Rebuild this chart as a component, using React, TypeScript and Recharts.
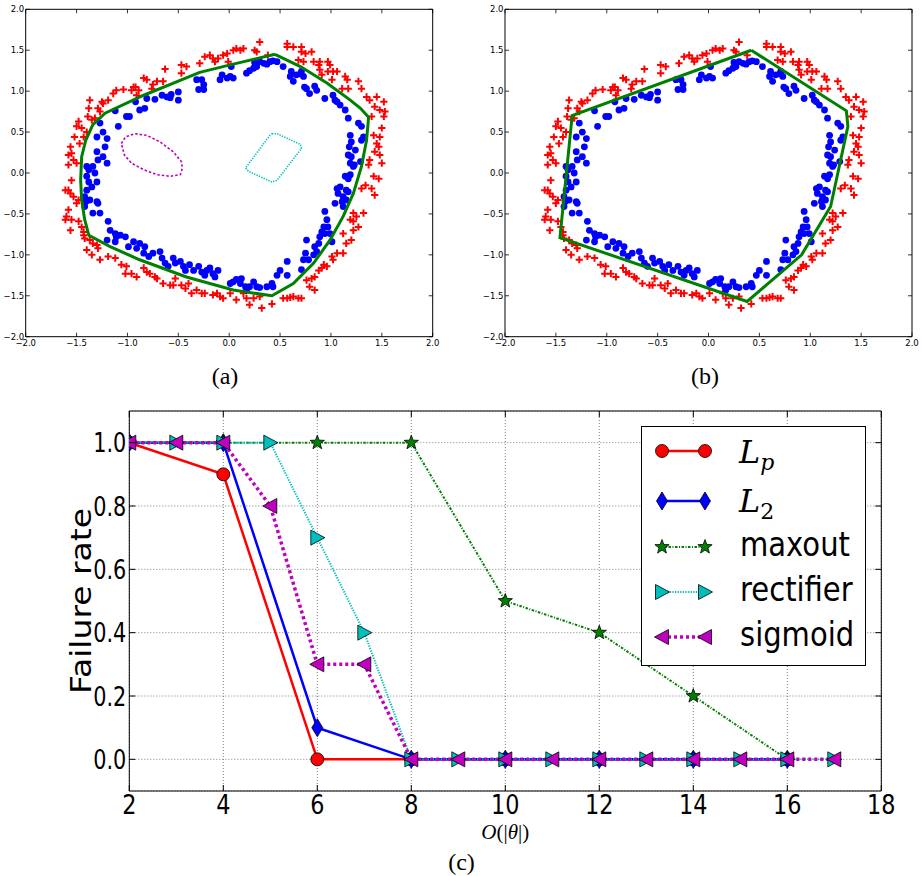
import React from 'react';
import {
  ScatterChart, Scatter, XAxis, YAxis, ReferenceArea,
  ComposedChart, Line, CartesianGrid,
} from 'recharts';

type Pt = [number, number];

// ---- panels (a) and (b): same two point clouds ----
const BLUE_PTS: Pt[] = [
  [-0.92, 0.87], [-0.88, 0.77], [-0.83, 0.79], [-0.81, 0.91], [-0.73, 0.90], [-0.66, 0.95],
  [-0.61, 0.93], [-0.58, 0.92], [-0.57, 0.96], [-0.50, 0.89], [-0.50, 0.99], [-1.12, 0.76],
  [-1.01, 0.69], [-0.98, 0.69], [-1.09, 0.57],
  [-0.32, 1.14], [-0.27, 1.14], [-0.25, 1.08], [-0.25, 1.02], [-0.30, 1.02], [-0.07, 1.20],
  [-0.09, 1.14], [-0.02, 1.16], [0.01, 1.18], [0.02, 1.30], [0.04, 1.16], [0.17, 1.22],
  [0.20, 1.25], [0.24, 1.28], [0.27, 1.30], [0.25, 1.35], [0.30, 1.36], [0.34, 1.34],
  [0.37, 1.33], [0.40, 1.36], [0.43, 1.37], [0.47, 1.36],
  [0.53, 1.30], [0.61, 1.24], [0.60, 1.18], [0.63, 1.12], [0.66, 1.20], [0.70, 1.21],
  [0.73, 1.18], [0.71, 1.24], [0.74, 1.05], [0.76, 1.03], [0.79, 0.97], [0.84, 1.06],
  [0.86, 1.01], [0.94, 0.91], [1.02, 0.95], [1.04, 0.89], [1.06, 0.87], [1.09, 0.83],
  [1.14, 0.77], [1.17, 0.67], [1.27, 0.61], [1.30, 0.57],
  [1.19, 0.46], [1.20, 0.38], [1.18, 0.32], [1.24, 0.28], [1.30, 0.40], [1.32, 0.44],
  [1.17, 0.22], [1.20, 0.20], [1.19, 0.12], [1.23, 0.10], [1.29, 0.14], [1.22, 0.08],
  [1.14, -0.04], [1.17, -0.07], [1.19, -0.02], [1.06, -0.19], [1.09, -0.17], [1.15, -0.21],
  [1.17, -0.23], [1.07, -0.25], [1.12, -0.29], [1.11, -0.35], [1.15, -0.33], [1.04, -0.37],
  [1.12, -0.41], [0.94, -0.47], [0.96, -0.57], [0.93, -0.66], [0.97, -0.66], [0.91, -0.72],
  [0.94, -0.74], [0.89, -0.78], [0.99, -0.74], [1.01, -0.84], [0.88, -0.86], [0.84, -0.90],
  [0.86, -0.96], [0.83, -1.00], [0.76, -0.82], [0.75, -0.98], [0.78, -1.06], [0.73, -1.06],
  [0.57, -1.08], [0.50, -1.19], [0.57, -1.25], [0.47, -1.25], [0.71, -1.18], [0.43, -1.39],
  [0.42, -1.35], [0.37, -1.39], [0.30, -1.40], [0.27, -1.39], [0.24, -1.33], [0.20, -1.39],
  [0.17, -1.43], [0.16, -1.39], [0.12, -1.29], [0.07, -1.30], [0.11, -1.35], [0.04, -1.33],
  [0.01, -1.35],
  [-1.19, -0.59], [-1.17, -0.70], [-1.12, -0.74], [-1.11, -0.78], [-1.07, -0.76], [-1.02, -0.78],
  [-1.20, -0.82], [-1.12, -0.84], [-0.99, -0.90], [-0.94, -0.84], [-0.91, -0.92], [-0.88, -0.86],
  [-0.83, -0.90], [-0.84, -0.98], [-0.79, -1.02], [-0.75, -0.98], [-0.68, -0.96], [-0.66, -1.04],
  [-0.63, -1.10], [-0.60, -1.14], [-0.55, -1.04], [-0.53, -1.10], [-0.48, -1.08], [-0.45, -1.14],
  [-0.43, -1.19], [-0.39, -1.12], [-0.35, -1.19], [-0.30, -1.14], [-0.27, -1.21], [-0.24, -1.25],
  [-0.22, -1.19], [-0.19, -1.16], [-0.16, -1.23], [-0.11, -1.19], [-0.14, -1.27],
  [-1.27, 0.61], [-1.24, 0.50], [-1.30, 0.44], [-1.20, 0.42], [-1.22, 0.32], [-1.30, 0.26],
  [-1.29, 0.16], [-1.24, 0.20], [-1.20, 0.12], [-1.40, 0.08], [-1.38, 0.04], [-1.34, 0.08],
  [-1.32, 0.00], [-1.30, -0.11], [-1.40, -0.04], [-1.38, -0.11], [-1.35, -0.17], [-1.40, -0.21],
  [-1.42, -0.29], [-1.41, -0.35], [-1.37, -0.33], [-1.42, -0.41], [-1.34, -0.49], [-1.29, -0.37],
  [-1.27, -0.49], [-1.30, -0.35],
];

const RED_PTS: Pt[] = [
  [-0.63, 1.27], [-0.47, 1.32], [-0.42, 1.30], [-0.47, 1.22], [-0.65, 1.12], [-0.71, 1.12],
  [-0.75, 1.08], [-0.76, 1.03], [-0.81, 1.14], [-0.84, 1.16], [-0.89, 1.01], [-0.92, 1.05],
  [-0.94, 1.05], [-0.96, 1.01], [-0.91, 0.95], [-1.04, 1.02], [-1.11, 1.01], [-1.14, 0.97],
  [-1.19, 0.89], [-1.24, 0.85], [-1.25, 0.87], [-1.37, 0.89], [-1.38, 0.79], [-1.29, 0.79],
  [-1.27, 0.75], [-1.32, 0.67], [-1.35, 0.65], [-1.39, 0.69], [-1.48, 0.63], [-1.50, 0.57],
  [-1.45, 0.55], [-1.40, 0.50], [-1.43, 0.44], [-1.47, 0.36], [-1.52, 0.44], [-1.56, 0.32],
  [-1.55, 0.24], [-1.58, 0.22], [-1.53, 0.16], [-1.50, 0.12], [-1.58, 0.10], [-1.55, -0.09],
  [-1.61, -0.21], [-1.58, -0.21], [-1.56, -0.25], [-1.53, -0.29], [-1.48, -0.33], [-1.50, -0.37],
  [-1.58, -0.45], [-1.60, -0.53], [-1.61, -0.57], [-1.55, -0.57], [-1.48, -0.59], [-1.56, -0.70],
  [-1.45, -0.66], [-1.43, -0.72], [-1.43, -0.76], [-1.42, -0.80], [-1.37, -0.82], [-1.34, -0.86],
  [-1.30, -0.88], [-1.40, -0.94], [-1.35, -1.00], [-1.27, -1.06], [-1.29, -0.92], [-1.19, -1.02],
  [-1.12, -1.04], [-1.06, -1.12], [-1.01, -1.14], [-1.02, -1.23], [-0.96, -1.23], [-0.91, -1.27],
  [-0.84, -1.16], [-0.81, -1.21], [-0.78, -1.23], [-0.73, -1.27], [-0.71, -1.29], [-0.65, -1.35],
  [-0.58, -1.37], [-0.55, -1.37], [-0.53, -1.29], [-0.47, -1.37], [-0.43, -1.41], [-0.40, -1.35],
  [-0.37, -1.47], [-0.32, -1.43], [-0.27, -1.47], [-0.24, -1.47], [-0.16, -1.49], [-0.12, -1.47],
  [-0.09, -1.51], [-0.06, -1.53], [0.01, -1.47], [0.07, -1.55], [0.14, -1.47], [0.17, -1.53],
  [0.20, -1.61], [0.24, -1.53], [0.30, -1.51], [0.32, -1.65], [0.42, -1.60], [0.53, -1.53],
  [0.57, -1.53], [0.60, -1.52], [0.63, -1.51], [0.68, -1.53], [0.71, -1.53],
  [-0.29, 1.34], [-0.24, 1.42], [-0.19, 1.44], [-0.16, 1.40], [-0.14, 1.36], [-0.11, 1.40],
  [-0.06, 1.44], [-0.02, 1.46], [-0.01, 1.36], [0.04, 1.50], [0.07, 1.52], [0.11, 1.50],
  [0.14, 1.52], [0.25, 1.50], [0.27, 1.48], [0.30, 1.60], [0.38, 1.44], [0.57, 1.58],
  [0.57, 1.54], [0.63, 1.54], [0.71, 1.54], [0.71, 1.48], [0.75, 1.46], [0.81, 1.48],
  [0.68, 1.38], [0.73, 1.36], [0.83, 1.36], [0.88, 1.32], [0.89, 1.36], [0.97, 1.36],
  [0.99, 1.32], [1.02, 1.24], [0.89, 1.26], [0.91, 1.20], [0.97, 1.24], [1.01, 1.14],
  [1.06, 1.24], [1.14, 1.18], [1.16, 1.14], [1.11, 1.03], [1.17, 1.03], [1.27, 1.12],
  [1.30, 1.03], [1.35, 0.93], [1.38, 0.89], [1.45, 0.93], [1.52, 0.87], [1.43, 0.81],
  [1.40, 0.69], [1.48, 0.77], [1.53, 0.75], [1.52, 0.69], [1.50, 0.55], [1.42, 0.46],
  [1.48, 0.44], [1.45, 0.36], [1.47, 0.32], [1.43, 0.26], [1.48, 0.22], [1.38, 0.16],
  [1.37, 0.10], [1.50, 0.12], [1.42, -0.04], [1.47, -0.07], [1.34, -0.15], [1.40, -0.19],
  [1.43, -0.27], [1.30, -0.19], [1.32, -0.49], [1.22, -0.49], [1.25, -0.53], [1.22, -0.59],
  [1.19, -0.57], [1.27, -0.66], [1.22, -0.70], [1.12, -0.74], [1.20, -0.82], [1.15, -0.86],
  [1.12, -0.98], [1.06, -0.98], [1.01, -1.02], [1.02, -1.06], [0.96, -1.14], [0.93, -1.12],
  [0.91, -1.16], [0.88, -1.19], [0.84, -1.27], [0.81, -1.29], [0.76, -1.31], [0.79, -1.39],
  [0.84, -1.43],
];

// decision boundary of (a): smooth closed curve
const BOUNDARY_A: Pt[] = [
  [0.45, 1.45], [0.70, 1.30], [0.96, 1.10], [1.19, 0.89], [1.29, 0.79], [1.37, 0.68],
  [1.35, 0.40], [1.30, 0.08], [1.22, -0.25], [1.12, -0.53], [0.99, -0.82], [0.83, -1.10],
  [0.63, -1.35], [0.42, -1.50], [0.04, -1.43], [-0.42, -1.27], [-0.88, -1.06], [-1.17, -0.90],
  [-1.38, -0.76], [-1.42, -0.57], [-1.45, -0.33], [-1.46, -0.09], [-1.45, 0.20], [-1.41, 0.40],
  [-1.34, 0.59], [-1.22, 0.73], [-0.84, 0.95], [-0.29, 1.23], [0.04, 1.33], [0.45, 1.45],
];
// decision boundary of (b): polygon
const BOUNDARY_B: Pt[] = [
  [0.42, 1.5], [1.355, 0.76], [1.37, 0.57], [1.2, -0.41], [0.915, -1.0], [0.38, -1.57],
  [-1.46, -0.79], [-1.34, 0.70], [0.42, 1.5],
];
const ELLIPSE_A: Pt[] = [
  [-1.06, 0.36], [-1.02, 0.44], [-0.93, 0.48], [-0.81, 0.46], [-0.68, 0.38], [-0.55, 0.26],
  [-0.47, 0.14], [-0.46, 0.06], [-0.48, -0.02], [-0.58, -0.04], [-0.71, -0.02], [-0.84, 0.04],
  [-0.96, 0.12], [-1.03, 0.22], [-1.06, 0.36],
];
const QUAD_A: Pt[] = [
  [0.42, 0.48], [0.47, 0.48], [0.70, 0.35], [0.71, 0.30], [0.47, -0.09], [0.42, -0.11],
  [0.19, 0.02], [0.16, 0.06], [0.40, 0.46], [0.42, 0.48],
];
const RING_TICKS = [-2, -1.5, -1, -0.5, 0, 0.5, 1, 1.5, 2];

// ---- panel (c) ----
const LP_X = [2, 4, 6, 8, 10, 12, 14, 16];
const LP_Y = [1.0, 0.9, 0.0, 0.0, 0.0, 0.0, 0.0, 0.0];
const L2_X = [2, 4, 6, 8, 10, 12, 14, 16];
const L2_Y = [1.0, 1.0, 0.1, 0.0, 0.0, 0.0, 0.0, 0.0];
const MAXOUT_X = [2, 4, 6, 8, 10, 12, 14, 16];
const MAXOUT_Y = [1.0, 1.0, 1.0, 1.0, 0.5, 0.4, 0.2, 0.0];
const RECT_X = [2, 3, 4, 5, 6, 7, 8, 9, 10, 11, 12, 13, 14, 15, 16, 17];
const RECT_Y = [1.0, 1.0, 1.0, 1.0, 0.7, 0.4, 0, 0, 0, 0, 0, 0, 0, 0, 0, 0];
const SIGM_X = [2, 3, 4, 5, 6, 7, 8, 9, 10, 11, 12, 13, 14, 15, 16, 17];
const SIGM_Y = [1.0, 1.0, 1.0, 0.8, 0.3, 0.3, 0, 0, 0, 0, 0, 0, 0, 0, 0, 0];
const C_XTICKS = [2, 4, 6, 8, 10, 12, 14, 16, 18];
const C_YTICKS = [0, 0.2, 0.4, 0.6, 0.8, 1.0];

const toXY = (pts: Pt[]) => pts.map(([x, y]) => ({ x, y }));
const zip = (xs: number[], ys: number[]) => xs.map((x, i) => ({ x, y: ys[i] }));

const fmtRing = (v: number) => (v < 0 ? '\u2212' : '') + Math.abs(v).toFixed(1);

const EDGE = '#000';

// ---------- markers ----------
const mkCircle = (cx: number, cy: number, k?: any) => (
  <circle key={k} cx={cx} cy={cy} r={6.5} fill="#ff0000" stroke={EDGE} strokeWidth={0.8} />
);
const mkDiamond = (cx: number, cy: number, k?: any) => (
  <path key={k} d={`M${cx},${cy - 9}L${cx + 5.5},${cy}L${cx},${cy + 9}L${cx - 5.5},${cy}Z`}
    fill="#0000ff" stroke={EDGE} strokeWidth={0.8} />
);
const mkStar = (cx: number, cy: number, k?: any) => {
  const pts: string[] = [];
  for (let i = 0; i < 10; i++) {
    const r = i % 2 === 0 ? 7.5 : 3.1;
    const a = -Math.PI / 2 + (i * Math.PI) / 5;
    pts.push(`${cx + r * Math.cos(a)},${cy + r * Math.sin(a)}`);
  }
  return <polygon key={k} points={pts.join(' ')} fill="#008000" stroke={EDGE} strokeWidth={0.8} />;
};
const mkTriRight = (cx: number, cy: number, k?: any) => (
  <path key={k} d={`M${cx + 7.5},${cy}L${cx - 6.5},${cy - 7.5}L${cx - 6.5},${cy + 7.5}Z`}
    fill="#00bfbf" stroke={EDGE} strokeWidth={0.8} />
);
const mkTriLeft = (cx: number, cy: number, k?: any) => (
  <path key={k} d={`M${cx - 7.5},${cy}L${cx + 6.5},${cy - 7.5}L${cx + 6.5},${cy + 7.5}Z`}
    fill="#bf00bf" stroke={EDGE} strokeWidth={0.8} />
);

const SERIES = [
  { key: 'lp', data: zip(LP_X, LP_Y), color: '#ff0000', width: 2.5, dash: undefined, marker: mkCircle },
  { key: 'l2', data: zip(L2_X, L2_Y), color: '#0000ff', width: 2.5, dash: undefined, marker: mkDiamond },
  { key: 'maxout', data: zip(MAXOUT_X, MAXOUT_Y), color: '#008000', width: 2, dash: '2.5 1.5 1 1.5', marker: mkStar },
  { key: 'rect', data: zip(RECT_X, RECT_Y), color: '#00bfbf', width: 2, dash: '1.3 1.3', marker: mkTriRight },
  { key: 'sigm', data: zip(SIGM_X, SIGM_Y), color: '#bf00bf', width: 3.5, dash: '3 3', marker: mkTriLeft },
];

// ---------- ring panels ----------
const RING_TOP = 9.3;
const RING_PLOT_W = 407;
const RING_H = 390;
const RING_BOTTOM = 336.7;

function RingPanel({ left, width, yAxisW, boundary, extras }: {
  left: number; width: number; yAxisW: number; boundary: Pt[]; extras: boolean;
}) {
  const right = yAxisW + RING_PLOT_W;
  const XTick = (p: any) => (
    <g>
      <line x1={p.x} x2={p.x} y1={p.y} y2={p.y - 4} stroke="#000" strokeWidth={0.8} />
      <line x1={p.x} x2={p.x} y1={RING_TOP} y2={RING_TOP + 4} stroke="#000" strokeWidth={0.8} />
      <text x={p.x} y={p.y + 9.5} textAnchor="middle" fontSize={8.5} fontFamily="DejaVu Sans" fill="#000">
        {fmtRing(p.payload.value)}
      </text>
    </g>
  );
  const YTick = (p: any) => (
    <g>
      <line x1={p.x} x2={p.x + 4} y1={p.y} y2={p.y} stroke="#000" strokeWidth={0.8} />
      <line x1={right} x2={right - 4} y1={p.y} y2={p.y} stroke="#000" strokeWidth={0.8} />
      <text x={p.x - 1.5} y={p.y + 3} textAnchor="end" fontSize={8.5} fontFamily="DejaVu Sans" fill="#000">
        {fmtRing(p.payload.value)}
      </text>
    </g>
  );
  return (
    <div style={{ position: 'absolute', left, top: 0 }}>
      <ScatterChart width={width} height={RING_H}
        margin={{ top: RING_TOP, right: width - right, bottom: 0, left: 0 }}>
        <XAxis type="number" dataKey="x" domain={[-2, 2]} ticks={RING_TICKS} interval={0}
          height={RING_H - RING_BOTTOM} axisLine={false} tickLine={false} tickSize={0} tickMargin={0}
          tick={XTick} allowDataOverflow />
        <YAxis type="number" dataKey="y" domain={[-2, 2]} ticks={RING_TICKS} interval={0}
          width={yAxisW} axisLine={false} tickLine={false} tickSize={0} tickMargin={0}
          tick={YTick} allowDataOverflow />
        <Scatter data={toXY(RED_PTS)} isAnimationActive={false} legendType="none"
          shape={(p: any) => (
            <path d={`M${p.cx - 3.6},${p.cy}h7.2M${p.cx},${p.cy - 3.6}v7.2`} stroke="#ff0000" strokeWidth={2} />
          )} />
        <Scatter data={toXY(BLUE_PTS)} isAnimationActive={false} legendType="none"
          shape={(p: any) => <circle cx={p.cx} cy={p.cy} r={3.4} fill="#0000ff" />} />
        {extras && (
          <Scatter data={toXY(ELLIPSE_A)} isAnimationActive={false} legendType="none" fill="none"
            line={{ stroke: '#bf00bf', strokeWidth: 1.6, strokeDasharray: '2.5 2' }} shape={() => <g />} />
        )}
        {extras && (
          <Scatter data={toXY(QUAD_A)} isAnimationActive={false} legendType="none" fill="none"
            line={{ stroke: '#00bfbf', strokeWidth: 1.6, strokeDasharray: '1.3 1.3' }} shape={() => <g />} />
        )}
        <Scatter data={toXY(boundary)} isAnimationActive={false} legendType="none" fill="none"
          line={{ stroke: '#008000', strokeWidth: 3 }} shape={() => <g />} />
        <ReferenceArea x1={-2} x2={2} y1={-2} y2={2} fill="none" fillOpacity={0} stroke="#000" strokeWidth={1} ifOverflow="visible" />
      </ScatterChart>
    </div>
  );
}

// ---------- panel (c) ----------
const C_TOP = 21;
const C_LEFT = 129.3;
const C_RIGHT = 881.3;
const C_BOTTOM = 401;
const C_W = 923;
const C_H = 486;

function CondText({ x, y, size, anchor, sx = 0.88, children }: any) {
  return (
    <text transform={`translate(${x},${y}) scale(${sx},1)`} textAnchor={anchor} fontSize={size}
      fontFamily="DejaVu Sans" fill="#000">{children}</text>
  );
}

function FailureChart() {
  const XTick = (p: any) => (
    <g>
      <line x1={p.x} x2={p.x} y1={p.y} y2={p.y - 6} stroke="#000" strokeWidth={1} />
      <line x1={p.x} x2={p.x} y1={C_TOP} y2={C_TOP + 6} stroke="#000" strokeWidth={1} />
      <CondText x={p.x} y={p.y + 22.5} size={26} sx={0.86} anchor="middle">{String(p.payload.value)}</CondText>
    </g>
  );
  const YTick = (p: any) => (
    <g>
      <line x1={p.x} x2={p.x + 6} y1={p.y} y2={p.y} stroke="#000" strokeWidth={1} />
      <line x1={C_RIGHT} x2={C_RIGHT - 6} y1={p.y} y2={p.y} stroke="#000" strokeWidth={1} />
      <CondText x={p.x - 3} y={p.y + 9.5} size={26} sx={0.8} anchor="end">{p.payload.value.toFixed(1)}</CondText>
    </g>
  );
  return (
    <div style={{ position: 'absolute', left: 0, top: 390 }}>
      <ComposedChart width={C_W} height={C_H}
        margin={{ top: C_TOP, right: C_W - C_RIGHT, bottom: 0, left: 0 }}>
        <CartesianGrid stroke="#000" strokeWidth={0.5} strokeDasharray="1 2" />
        <XAxis type="number" dataKey="x" domain={[2, 18]} ticks={C_XTICKS} interval={0}
          height={C_H - C_BOTTOM} axisLine={false} tickLine={false} tickSize={0} tickMargin={0}
          tick={XTick} allowDataOverflow />
        <YAxis type="number" domain={[-0.1, 1.1]} ticks={C_YTICKS} interval={0}
          width={C_LEFT} axisLine={false} tickLine={false} tickSize={0} tickMargin={0}
          tick={YTick} allowDataOverflow />
        {SERIES.map(s => (
          <Line key={s.key} data={s.data} dataKey="y" type="linear" isAnimationActive={false}
            stroke={s.color} strokeWidth={s.width} strokeDasharray={s.dash} legendType="none"
            dot={(p: any) => s.marker(p.cx, p.cy, `${s.key}-${p.index}`)} activeDot={false} />
        ))}
        <ReferenceArea x1={2} x2={18} y1={-0.1} y2={1.1} fill="none" fillOpacity={0} stroke="#000" strokeWidth={1} ifOverflow="visible" />
      </ComposedChart>
    </div>
  );
}

const LEGEND_ROWS = [
  { key: 'lp', dy: 25 },
  { key: 'l2', dy: 75 },
  { key: 'maxout', dy: 121 },
  { key: 'rect', dy: 166 },
  { key: 'sigm', dy: 211 },
];

function LegendBox() {
  return (
    <svg width={226} height={241} style={{ position: 'absolute', left: 640.5, top: 425.5 }}>
      <rect x={0.5} y={0.5} width={224} height={239} fill="#fff" stroke="#000" strokeWidth={1} />
      {LEGEND_ROWS.map(r => {
        const s = SERIES.find(q => q.key === r.key)!;
        return (
          <g key={r.key}>
            <line x1={21} x2={64} y1={r.dy} y2={r.dy} stroke={s.color} strokeWidth={s.width} strokeDasharray={s.dash} />
            {s.marker(21, r.dy)}
            {s.marker(64, r.dy)}
          </g>
        );
      })}
      <text x={98} y={37} fontSize={32} fontFamily="DejaVu Serif" fontStyle="italic" fill="#000">
        L<tspan fontSize={22} dy={7}>p</tspan>
      </text>
      <text x={98} y={86} fontSize={32} fontFamily="DejaVu Serif" fontStyle="italic" fill="#000">
        L<tspan fontSize={22} dy={7} fontStyle="normal">2</tspan>
      </text>
      <CondText x={99} y={130} size={33} anchor="start">maxout</CondText>
      <CondText x={99} y={175} size={33} anchor="start">rectifier</CondText>
      <CondText x={99} y={220} size={33} anchor="start">sigmoid</CondText>
    </svg>
  );
}

function Captions() {
  return (
    <svg width={923} height={876} style={{ position: 'absolute', left: 0, top: 0, pointerEvents: 'none' }}>
      <text x={225} y={384} textAnchor="middle" fontSize={24} fontFamily="Liberation Serif" fill="#000">(a)</text>
      <text x={705} y={384} textAnchor="middle" fontSize={24} fontFamily="Liberation Serif" fill="#000">(b)</text>
      <text x={461.5} y={870} textAnchor="middle" fontSize={24} fontFamily="Liberation Serif" fill="#000">(c)</text>
      <text x={505.3} y={838.5} textAnchor="middle" fontSize={21} fontFamily="Liberation Serif" fill="#000">
        <tspan fontStyle="italic">O</tspan>(|<tspan fontStyle="italic">θ</tspan>|)
      </text>
      <text transform="translate(91,601) rotate(-90) scale(1,0.88)" textAnchor="middle" fontSize={33}
        fontFamily="DejaVu Sans" fill="#000">Failure rate</text>
    </svg>
  );
}

export default function App() {
  return (
    <div style={{ position: 'absolute', left: 0, top: 0, width: 923, height: 876, background: '#fff', overflow: 'hidden' }}>
      <RingPanel left={0} width={460} yAxisW={25.7} boundary={BOUNDARY_A} extras />
      <RingPanel left={460} width={463} yAxisW={45} boundary={BOUNDARY_B} extras={false} />
      <FailureChart />
      <LegendBox />
      <Captions />
    </div>
  );
}
